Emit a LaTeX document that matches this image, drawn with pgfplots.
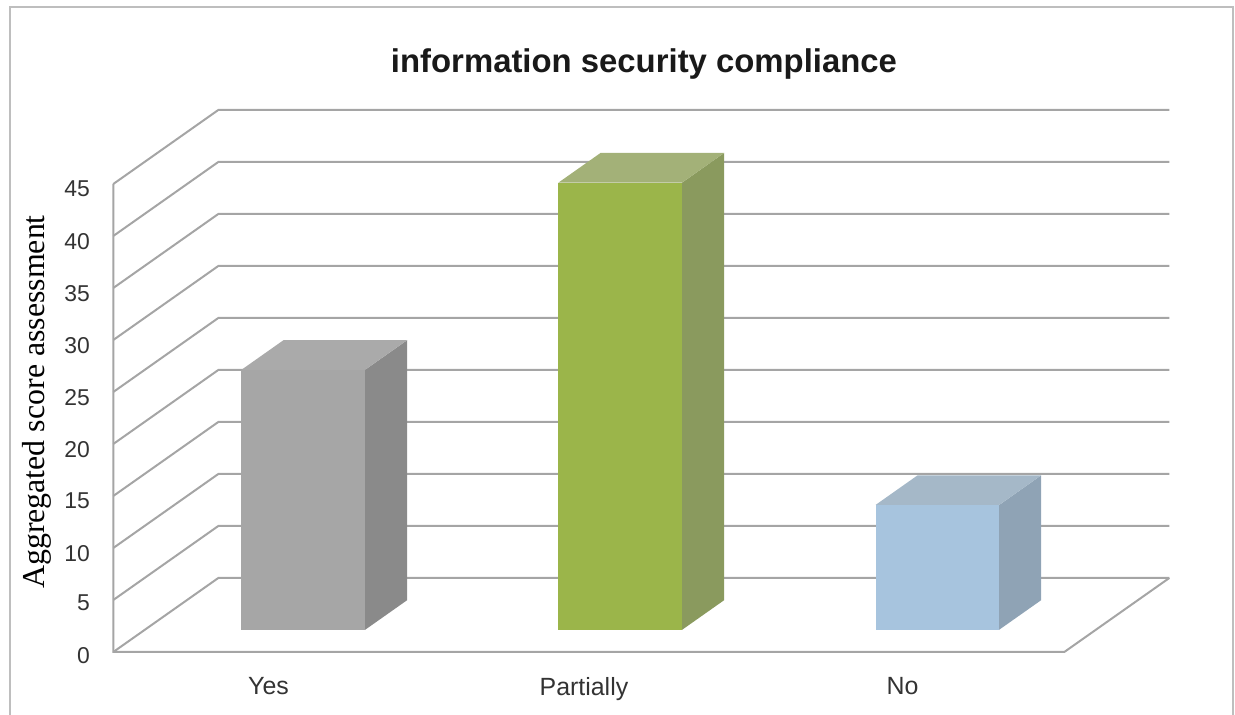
\documentclass[border=0pt]{standalone}
\usepackage{fontspec}
\setmainfont{Liberation Sans}
\newfontfamily\seriffont{Liberation Serif}
\usepackage{pgfplots}
\pgfplotsset{compat=1.18}

\definecolor{gridc}{RGB}{165,165,165}
\definecolor{frame}{RGB}{190,190,190}
\definecolor{grayF}{RGB}{166,166,166}
\definecolor{grayT}{RGB}{170,170,170}
\definecolor{grayS}{RGB}{138,138,138}
\definecolor{greenF}{RGB}{155,181,74}
\definecolor{greenT}{RGB}{163,177,120}
\definecolor{greenS}{RGB}{138,154,94}
\definecolor{blueF}{RGB}{167,196,222}
\definecolor{blueT}{RGB}{165,184,200}
\definecolor{blueS}{RGB}{143,163,181}

\begin{document}
\begin{tikzpicture}[x=1bp,y=1bp]
\path[use as bounding box] (0,0) rectangle (1235,715);
\draw[frame, line width=2bp] (10,-10) -- (10,708) -- (1233,708) -- (1233,-10);

\begin{axis}[
  at={(271.8bp,63bp)}, anchor=origin,
  x={(317bp,0bp)}, y={(105bp,74bp)}, z={(0bp,10.4bp)},
  xmin=-0.5, xmax=2.5, ymin=0, ymax=1, zmin=0, zmax=45,
  clip=false,
  axis line style={draw=none},
  major tick length=0pt,
  xtick={0,1,2}, xticklabels={Yes,Partially,No},
  ytick=\empty,
  ztick={0,5,...,45},
  /pgf/number format/assume math mode=true,
  tick label style={font=\fontsize{23}{23}\selectfont, text=black!80},
  zticklabel style={xshift=-20bp},
  xticklabel style={font=\fontsize{25}{25}\selectfont, yshift=-22bp, xshift=3bp},
]
% grid on left and back walls
\pgfplotsinvokeforeach{0,5,...,45}{
  \addplot3[gridc, line width=2bp, mark=none] coordinates {(-0.5,0,#1) (-0.5,1,#1) (2.5,1,#1)};
}
% front-left edge and floor
\addplot3[gridc, line width=2bp, mark=none] coordinates {(-0.5,0,45) (-0.5,0,0) (2.5,0,0) (2.5,1,0)};

% Yes = 25
\addplot3[fill=grayF, draw=none, mark=none] coordinates {(-0.195,0.3,0) (0.195,0.3,0) (0.195,0.3,25) (-0.195,0.3,25)};
\addplot3[fill=grayS, draw=none, mark=none] coordinates {(0.195,0.3,0) (0.195,0.7,0) (0.195,0.7,25) (0.195,0.3,25)};
\addplot3[fill=grayT, draw=none, mark=none] coordinates {(-0.195,0.3,25) (0.195,0.3,25) (0.195,0.7,25) (-0.195,0.7,25)};
% Partially = 43
\addplot3[fill=greenF, draw=none, mark=none] coordinates {(0.805,0.3,0) (1.195,0.3,0) (1.195,0.3,43) (0.805,0.3,43)};
\addplot3[fill=greenS, draw=none, mark=none] coordinates {(1.195,0.3,0) (1.195,0.7,0) (1.195,0.7,43) (1.195,0.3,43)};
\addplot3[fill=greenT, draw=none, mark=none] coordinates {(0.805,0.3,43) (1.195,0.3,43) (1.195,0.7,43) (0.805,0.7,43)};
% No = 12
\addplot3[fill=blueF, draw=none, mark=none] coordinates {(1.805,0.3,0) (2.195,0.3,0) (2.195,0.3,12) (1.805,0.3,12)};
\addplot3[fill=blueS, draw=none, mark=none] coordinates {(2.195,0.3,0) (2.195,0.7,0) (2.195,0.7,12) (2.195,0.3,12)};
\addplot3[fill=blueT, draw=none, mark=none] coordinates {(1.805,0.3,12) (2.195,0.3,12) (2.195,0.7,12) (1.805,0.7,12)};
\end{axis}

\node[font=\fontsize{33}{33}\selectfont\bfseries, anchor=base, text=black!90] at (644,642) {information security compliance};
\node[rotate=90, font=\seriffont\fontsize{32}{32}\selectfont, anchor=center] at (37,313) {Aggregated score assessment};
\end{tikzpicture}
\end{document}
